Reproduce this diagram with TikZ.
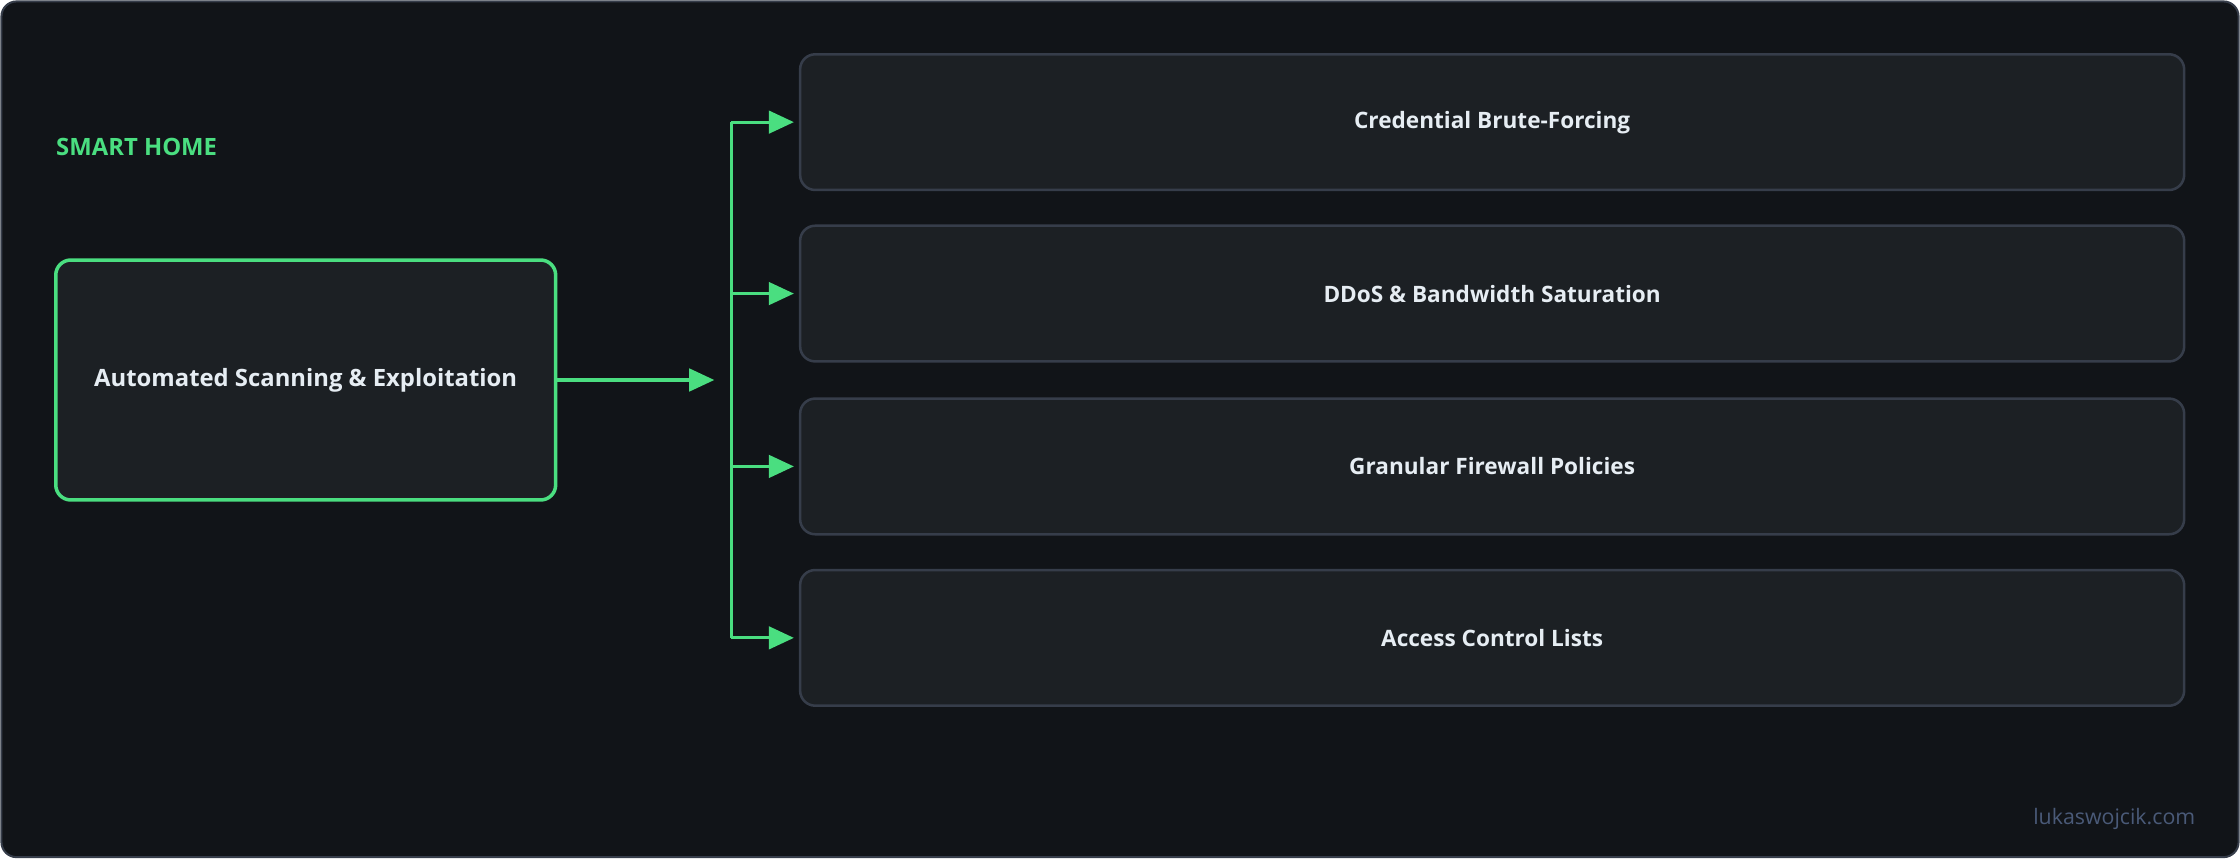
\documentclass[tikz,border=0pt]{standalone}
\usepackage{fontspec}
\setmainfont{Open Sans}
\usetikzlibrary{arrows.meta}
\definecolor{bgdark}{HTML}{111418}
\definecolor{boxfill}{HTML}{1C2024}
\definecolor{boxline}{HTML}{363D4A}
\definecolor{accent}{HTML}{4ADE80}
\definecolor{labeltext}{HTML}{E6EDF3}
\definecolor{credit}{HTML}{4A5A78}
\begin{document}
\begin{tikzpicture}[x=0.02cm,y=-0.02cm,
    source node/.style={draw=accent,line width=1.4pt,fill=boxfill,rounded corners=6pt,
        minimum width=7cm,minimum height=3.36cm,text=labeltext,
        font=\fontsize{9.5}{11}\selectfont\bfseries},
    target node/.style={draw=boxline,line width=1pt,fill=boxfill,rounded corners=6pt,
        minimum width=19.38cm,minimum height=1.9cm,text=labeltext,
        font=\fontsize{9}{11}\selectfont\bfseries},
    flow/.style={draw=accent,line width=1.2pt},
    tip/.style={flow,-{Triangle[length=10pt,width=9pt]}}]

    % Frame
    \draw[draw=boxline,fill=bgdark,rounded corners=6pt,line width=0.8pt] (1,1) rectangle (1567,600);
    \useasboundingbox (0,0) rectangle (1568,601);

    % Define vertices
    \node[anchor=west,inner sep=0pt,text=accent,font=\fontsize{9.5}{11}\selectfont\bfseries] (title) at (39,103) {SMART HOME};
    \node[source node] (scan) at (214,266) {Automated Scanning \& Exploitation};
    \node[target node] (brute) at (1044.5,85.5) {Credential Brute-Forcing};
    \node[target node] (ddos) at (1044.5,205.5) {DDoS \& Bandwidth Saturation};
    \node[target node] (fw) at (1044.5,326.5) {Granular Firewall Policies};
    \node[target node] (acl) at (1044.5,446.5) {Access Control Lists};
    \node[anchor=east,inner sep=0pt,text=credit,font=\fontsize{8.5}{10}\selectfont] (site) at (1537,573) {lukaswojcik.com};

    \coordinate (hub) at (500,266);
    \coordinate (top) at (512,85.5);
    \coordinate (bot) at (512,446.5);

    % Draw edges
    \draw[tip] (scan.east) -- (hub);
    \draw[flow] (top) -- (bot);
    \foreach \t in {brute,ddos,fw,acl}
        \draw[tip,shorten >=2pt] (top |- \t.west) -- (\t.west);

\end{tikzpicture}
\end{document}
